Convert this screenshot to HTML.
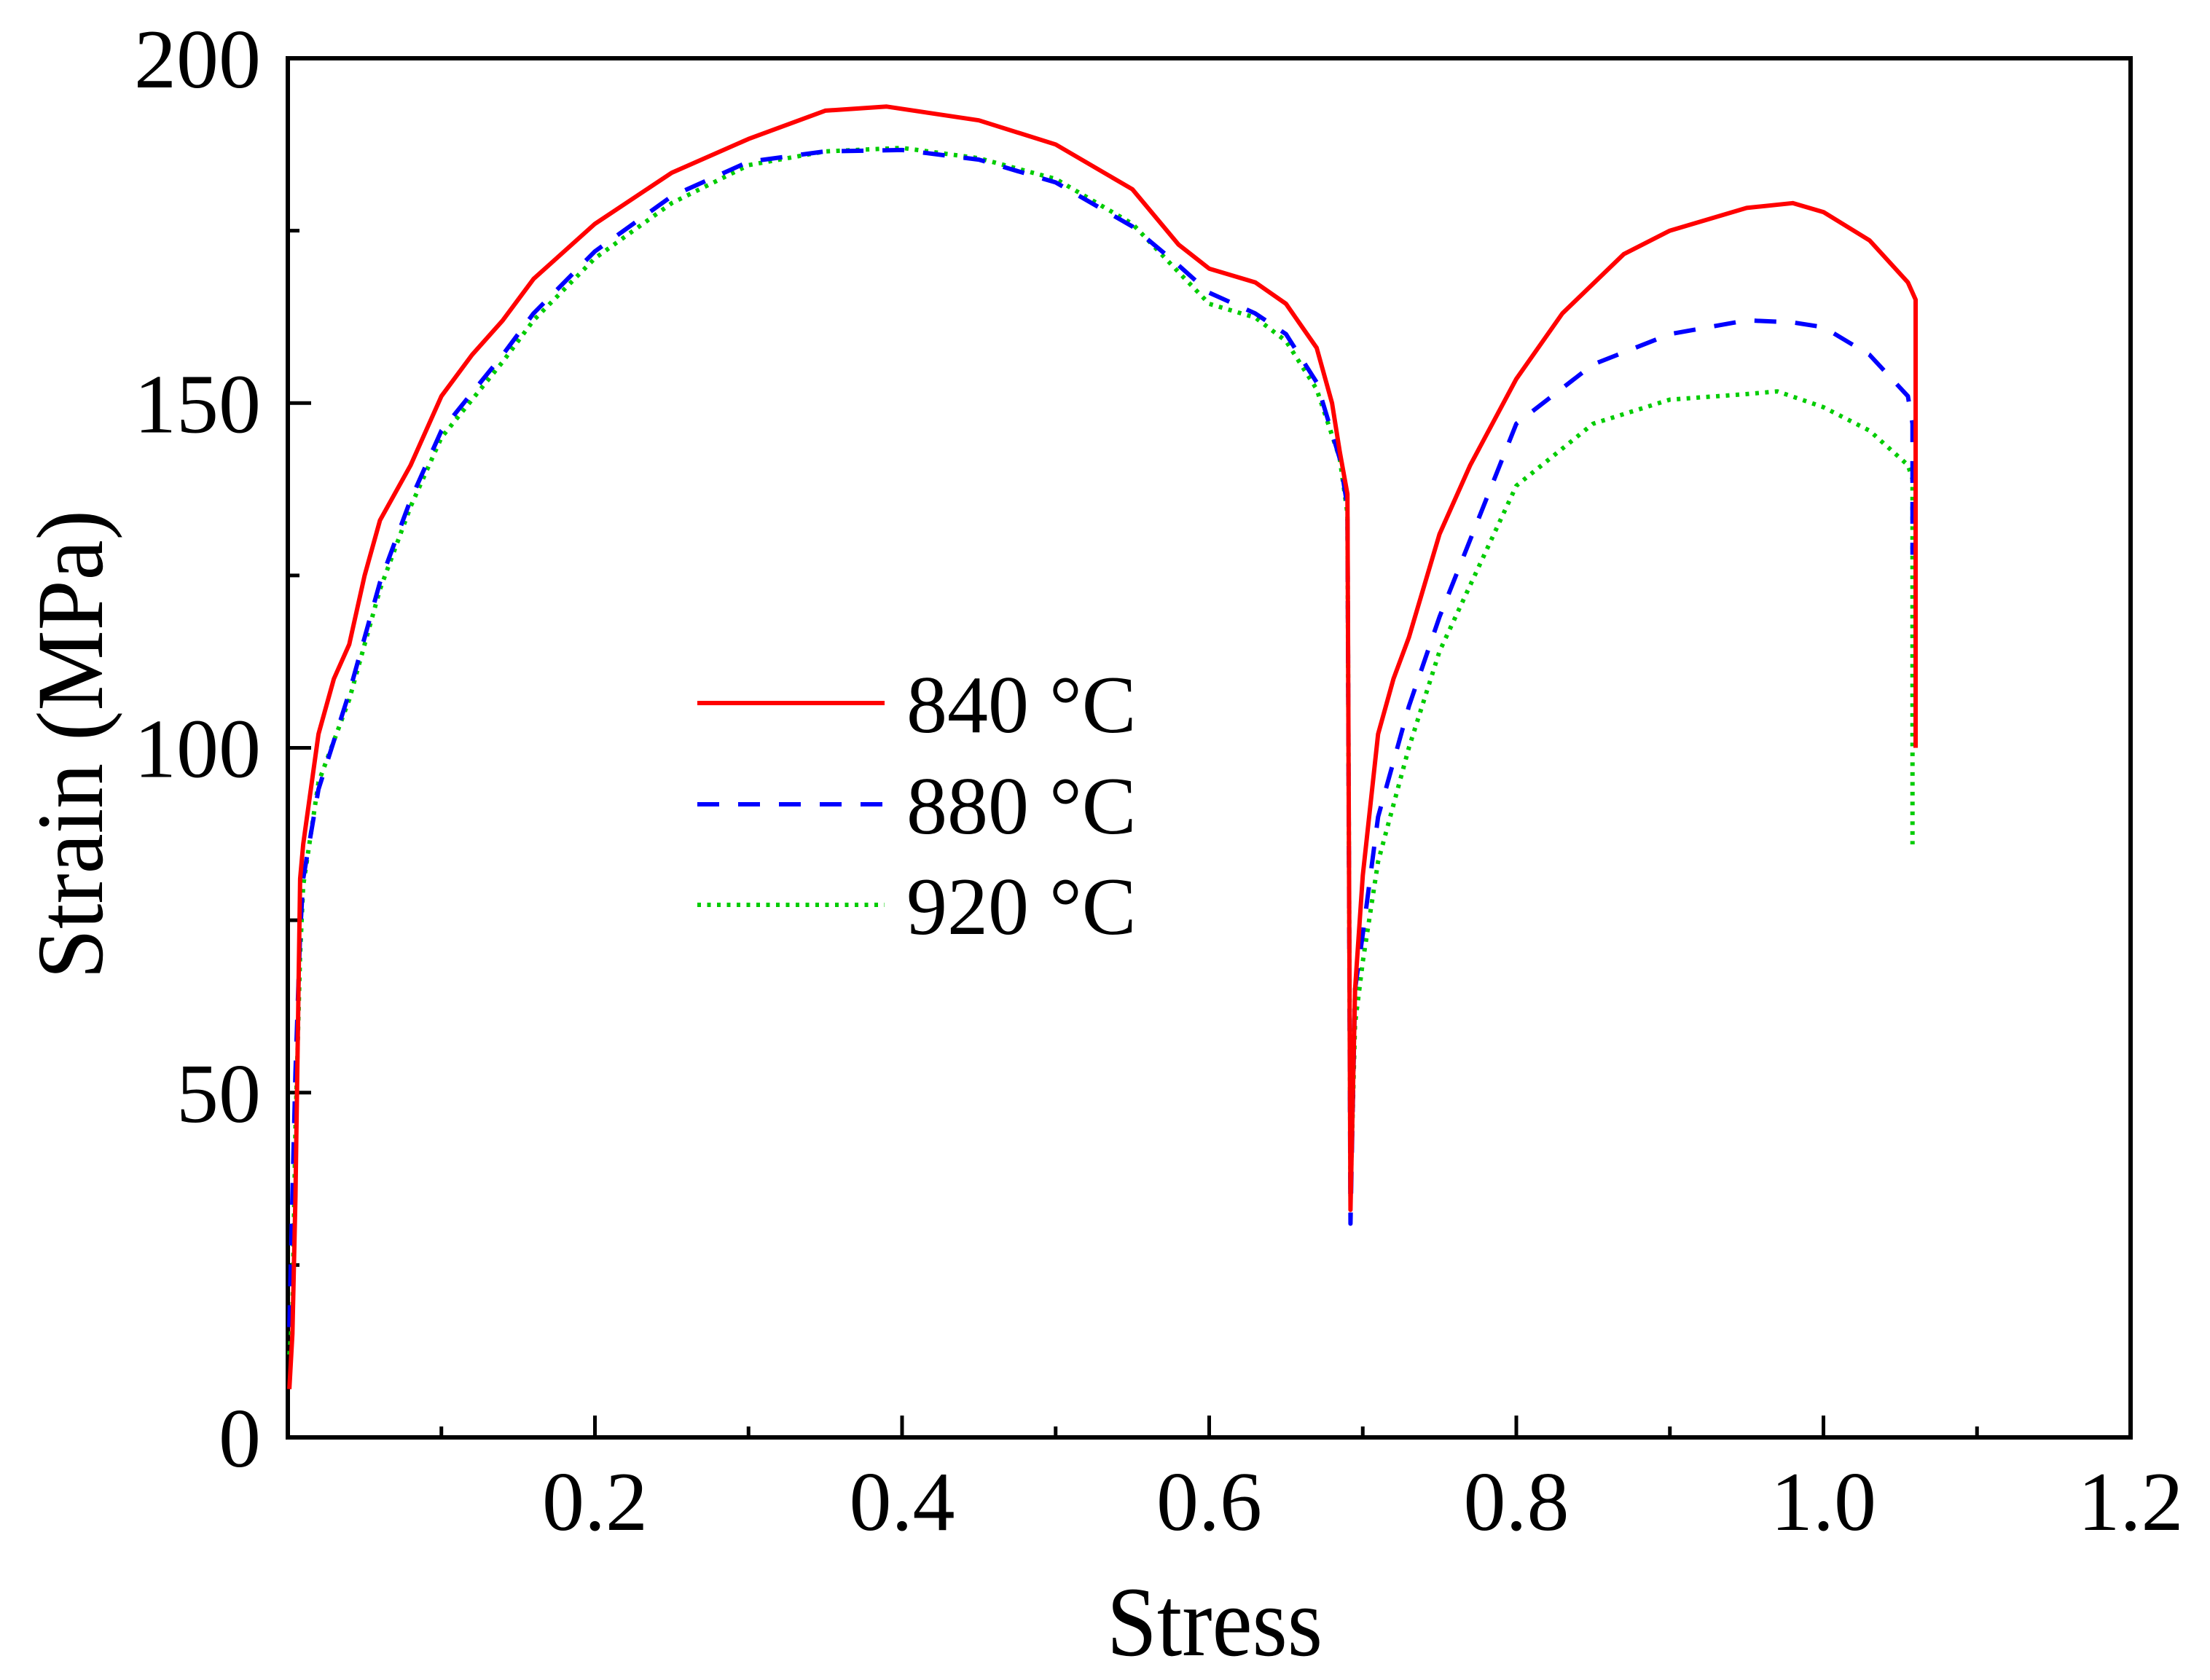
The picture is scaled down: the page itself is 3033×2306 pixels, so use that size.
<!DOCTYPE html>
<html><head><meta charset="utf-8"><style>
html,body{margin:0;padding:0;background:#fff;}
svg{display:block;}
text{font-family:"Liberation Serif","Times New Roman",serif;fill:#000;}
</style></head><body>
<svg id="chart" width="3033" height="2306" viewBox="0 0 3033 2306" xmlns="http://www.w3.org/2000/svg">
<g id="grid-layer"></g>
<g id="series-layer"></g>
<g id="legend"></g>
<text x="1667" y="2272" font-size="124" text-anchor="middle" transform="translate(1667,2272) scale(1,1.1) translate(-1667,-2272)">Stress</text>
<text x="0" y="0" font-size="124" text-anchor="middle" transform="translate(140,1022) rotate(-90) scale(1,1.05)">Strain (MPa)</text>
</svg>
<script>
const xTicks = [0.2, 0.4, 0.6, 0.8, 1.0, 1.2];
const xTickLabels = ["0.2", "0.4", "0.6", "0.8", "1.0", "1.2"];
const xMinor = [0.1, 0.3, 0.5, 0.7, 0.9, 1.1];
const yTicks = [0, 50, 100, 150, 200];
const yTickLabels = ["0", "50", "100", "150", "200"];
const yMinor = [25, 75, 125, 175];
const seriesNames = ["840 °C", "880 °C", "920 °C"];

const x840 = [0.001,0.003,0.005,0.008,0.01,0.02,0.03,0.04,0.05,0.06,0.08,0.1,0.12,0.14,0.16,0.2,0.25,0.3,0.35,0.39,0.45,0.5,0.55,0.58,0.6,0.63,0.65,0.67,0.68,0.685,0.69,0.692,0.695,0.7,0.71,0.72,0.73,0.75,0.77,0.8,0.83,0.87,0.9,0.95,0.98,1.0,1.03,1.055,1.06,1.06];
const y840 = [7,15,35,81,86,102,110,115,125,133,141,151,157,162,168,176,183.4,188.3,192.4,193,191,187.5,181,173,169.5,167.5,164.4,158,150,143,136.8,33,65,81.5,102,110,116,131,141,153.5,163,171.6,175,178.3,179,177.7,173.6,167.5,165,100];

const x880 = [0.001,0.003,0.005,0.008,0.01,0.02,0.04,0.06,0.08,0.1,0.14,0.16,0.2,0.25,0.3,0.35,0.4,0.45,0.5,0.55,0.58,0.6,0.63,0.65,0.67,0.685,0.69,0.692,0.695,0.7,0.71,0.73,0.75,0.8,0.85,0.9,0.95,0.98,1.0,1.03,1.055,1.058,1.058];
const y880 = [16,35,53,73,81,94,108,124,136,146,157,163,172,180,185,186.5,186.7,185.3,182,175.6,170,166,163,160,153,142,135,31,65,73,90,106,119,147,155.6,160,162,161.7,161,157,151,147,128];

const x920 = [0.001,0.003,0.005,0.008,0.01,0.02,0.04,0.06,0.08,0.1,0.14,0.16,0.2,0.25,0.3,0.35,0.4,0.45,0.5,0.55,0.58,0.6,0.63,0.65,0.67,0.685,0.69,0.692,0.695,0.7,0.71,0.73,0.75,0.8,0.85,0.9,0.95,0.97,1.0,1.03,1.055,1.058,1.058];
const y920 = [12,18,45,70,80,95,107,123,135,145,156,162,171,179,184.5,186.5,187,185.5,182.5,176,169,164.4,162.4,159,152,142,134,35,60,69,83.5,100,114,138,147,150.5,151.3,151.7,149.4,146,141,139,86];

const NS = "http://www.w3.org/2000/svg";
const L = 395, R = 2924, T = 80, B = 1973;
const xMax = 1.2, yMax = 200;
function sx(v){ return L + v / xMax * (R - L); }
function sy(v){ return B - v / yMax * (B - T); }
function mk(tag, attrs, parent){
  const e = document.createElementNS(NS, tag);
  for (const k in attrs) e.setAttribute(k, attrs[k]);
  parent.appendChild(e);
  return e;
}
const axes = document.getElementById('grid-layer');
const frame = mk('rect', {x:L, y:T, width:R-L, height:B-T, fill:'none', stroke:'#000', 'stroke-width':6}, axes);



xTicks.forEach((v, i) => {
  const t = mk('line', {x1:sx(v), x2:sx(v), y1:B, y2:B-30, stroke:'#000', 'stroke-width':5}, axes);
  
  
  const lb = mk('text', {x:sx(v), y:2100, 'font-size':116, 'text-anchor':'middle'}, axes);
  lb.textContent = xTickLabels[i];
  
  
});
xMinor.forEach(v => {
  const t = mk('line', {x1:sx(v), x2:sx(v), y1:B, y2:B-15, stroke:'#000', 'stroke-width':5}, axes);
  
  
});
yTicks.forEach((v, i) => {
  const t = mk('line', {x1:L, x2:L+32, y1:sy(v), y2:sy(v), stroke:'#000', 'stroke-width':5}, axes);
  
  
  const lb = mk('text', {x:358, y:sy(v)+40, 'font-size':116, 'text-anchor':'end'}, axes);
  lb.textContent = yTickLabels[i];
  
  
});
yMinor.forEach(v => {
  const t = mk('line', {x1:L, x2:L+16, y1:sy(v), y2:sy(v), stroke:'#000', 'stroke-width':5}, axes);
  
  
});

const styles = [
  {color:'#ff0000', dash:'none'},
  {color:'#0000ff', dash:'30 26'},
  {color:'#00cc00', dash:'5 8.5'}
];
const sl = document.getElementById('series-layer');
const allX = [x840, x880, x920], allY = [y840, y880, y920];
const sNames = ['line-840c', 'line-880c', 'line-920c'];
for (let s = 2; s >= 0; s--) {
  const pts = allX[s].map((v, i) => sx(v).toFixed(1) + ',' + sy(allY[s][i]).toFixed(1)).join(' ');
  const p = mk('polyline', {points:pts, fill:'none', stroke:styles[s].color, 'stroke-width':6, 'stroke-dasharray':styles[s].dash, 'stroke-linejoin':'round'}, sl);
  
  
}

const lg = document.getElementById('legend');
const rowsY = [965, 1104, 1242];
seriesNames.forEach((n, i) => {
  const ln = mk('line', {x1:957, x2:1214, y1:rowsY[i], y2:rowsY[i], stroke:styles[i].color, 'stroke-width':6, 'stroke-dasharray':styles[i].dash}, lg);
  
  
  const tx = mk('text', {x:1244, y:rowsY[i]+40, 'font-size':112}, lg);
  tx.textContent = n;
  
  
});
</script>
</body></html>
